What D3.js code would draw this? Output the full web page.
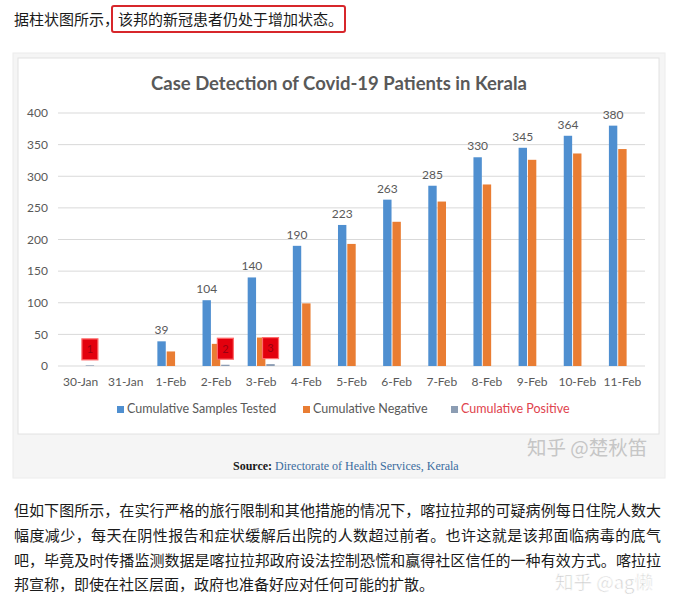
<!DOCTYPE html>
<html><head><meta charset="utf-8">
<script src="https://cdn.jsdelivr.net/npm/d3@7"></script>
<style>body{margin:0;background:#fff;}svg{display:block;}</style>
</head><body>
<svg id="c" width="676" height="605"></svg>
<script>
const categories = ["30-Jan","31-Jan","1-Feb","2-Feb","3-Feb","4-Feb","5-Feb","6-Feb","7-Feb","8-Feb","9-Feb","10-Feb","11-Feb"];
const tested   = [null,null,39,104,140,190,223,263,285,330,345,364,380];
const negative = [null,null,23,35,45,99,193,228,260,287,326,336,343];
const positive = [1,null,null,2,3,null,null,null,null,null,null,null,null];
const yTicks = [0,50,100,150,200,250,300,350,400];
const seriesNames = ["Cumulative Samples Tested","Cumulative Negative","Cumulative Positive"];
const seriesKeys = ["tested","negative","positive"];
const colors = {tested:"#4f8fd0", negative:"#e97d33", positive:"#8c9db3"};
const title = "Case Detection of Covid-19 Patients in Kerala";
const intro1 = "据柱状图所示，";
const intro2 = "该邦的新冠患者仍处于增加状态。";
const para = [
 "但如下图所示，在实行严格的旅行限制和其他措施的情况下，喀拉拉邦的可疑病例每日住院人数大",
 "幅度减少，每天在阴性报告和症状缓解后出院的人数超过前者。也许这就是该邦面临病毒的底气",
 "吧，毕竟及时传播监测数据是喀拉拉邦政府设法控制恐慌和赢得社区信任的一种有效方式。喀拉拉",
 "邦宣称，即使在社区层面，政府也准备好应对任何可能的扩散。"
];

const svg = d3.select("#c");
const cjk = "'Noto Sans CJK SC','Noto Sans',sans-serif";
const lat = "Lato,'Open Sans',sans-serif";

// intro line
svg.append("text").attr("x",14).attr("y",25).attr("font-family",cjk).attr("font-size",15).attr("fill","#1a1a1a").text(intro1);
svg.append("rect").attr("x",112).attr("y",6).attr("width",233).attr("height",26).attr("rx",2)
  .attr("fill","none").attr("stroke","#d7262b").attr("stroke-width",2);
svg.append("text").attr("x",118).attr("y",25).attr("font-family",cjk).attr("font-size",15).attr("fill","#1a1a1a").text(intro2);

// panel
svg.append("rect").attr("x",13).attr("y",53).attr("width",652).attr("height",425).attr("fill","#f5f5f5").attr("stroke","#ececec");
svg.append("rect").attr("x",18).attr("y",58).attr("width",641).attr("height",376).attr("fill","#ffffff").attr("stroke","#e2e2e2");

// title
svg.append("text").attr("x",339).attr("y",90).attr("text-anchor","middle").attr("font-family",lat)
  .attr("font-weight","bold").attr("font-size",18.5).attr("fill","#595959").text(title);

const x = d3.scaleBand().domain(categories).range([58,645]).paddingInner(0.36).paddingOuter(0.18);
const xs = d3.scaleBand().domain(seriesKeys).range([0,x.bandwidth()]).padding(0.1);
const y = d3.scaleLinear().domain([0,400]).range([366,113]);

// grid
svg.append("g").selectAll("line").data(yTicks).join("line")
  .attr("x1",58).attr("x2",645).attr("y1",d=>y(d)).attr("y2",d=>y(d))
  .attr("stroke","#d9d9d9").attr("stroke-width",1);

// y axis
const ya = svg.append("g").attr("transform","translate(50,0)")
  .call(d3.axisLeft(y).tickValues(yTicks).tickSize(0).tickPadding(2));
ya.select(".domain").remove();
ya.selectAll("text").attr("font-family",lat).attr("font-size",12).attr("fill","#595959");

// x axis
const xa = svg.append("g").attr("transform","translate(0,366)")
  .call(d3.axisBottom(x).tickSize(0).tickPadding(11));
xa.select(".domain").remove();
xa.selectAll("text").attr("font-family",lat).attr("font-size",12).attr("fill","#595959");

const rows = categories.map((c,i)=>({c, tested:tested[i], negative:negative[i], positive:positive[i]}));

seriesKeys.forEach(k=>{
  svg.append("g").selectAll("rect").data(rows.filter(r=>r[k]!=null)).join("rect")
    .attr("x",d=>x(d.c)+xs(k)).attr("width",xs.bandwidth())
    .attr("y",d=>y(d[k])).attr("height",d=>y(0)-y(d[k]))
    .attr("fill",colors[k]);
});

// data labels on tested
svg.append("g").selectAll("text").data(rows.filter(r=>r.tested!=null)).join("text")
  .attr("x",d=>x(d.c)+xs("tested")+xs.bandwidth()/2).attr("y",d=>y(d.tested)-7)
  .attr("text-anchor","middle").attr("font-family",lat).attr("font-size",12).attr("fill","#595959")
  .text(d=>d.tested);

// red highlight boxes on positive labels
const pg = svg.append("g").selectAll("g").data(rows.filter(r=>r.positive!=null)).join("g")
  .attr("transform",d=>`translate(${x(d.c)+xs("positive")+xs.bandwidth()/2},${y(d.positive)-16})`);
pg.append("rect").attr("x",-8).attr("y",-10.5).attr("width",16).attr("height",21)
  .attr("fill","#e3000d").attr("stroke","#ff6b6b").attr("stroke-width",1.2);
pg.append("text").attr("text-anchor","middle").attr("dy","0.35em").attr("font-family",lat)
  .attr("font-size",11).attr("fill","#9a0010").text(d=>d.positive);

// legend
const legX = [117,303,451];
const lg = svg.append("g").selectAll("g").data(seriesKeys).join("g")
  .attr("transform",(d,i)=>`translate(${legX[i]},413)`);
lg.append("rect").attr("x",0).attr("y",-7).attr("width",7).attr("height",7).attr("fill",d=>colors[d]);
lg.append("text").attr("x",10).attr("y",0).attr("font-family",lat).attr("font-size",12.5)
  .attr("fill",(d,i)=>i===2?"#e0434d":"#595959").text((d,i)=>seriesNames[i]);

// source
const st = svg.append("text").attr("x",233).attr("y",470).attr("font-family","'Liberation Serif',serif").attr("font-size",12);
st.append("tspan").attr("font-weight","bold").attr("fill","#1a1a1a").text("Source: ");
st.append("tspan").attr("fill","#3b6c9e").text("Directorate of Health Services, Kerala");

// watermark in panel
svg.append("text").attr("x",527).attr("y",455).attr("font-family",cjk).attr("font-size",19.5)
  .attr("fill","#c6c6c6").text("知乎 @楚秋笛");

// paragraph
const lineY = [516,541,566,590];
para.forEach((t,i)=>{
  const tx = svg.append("text").attr("x",14).attr("y",lineY[i]).attr("font-family",cjk)
    .attr("font-size",15).attr("fill","#1a1a1a").text(t);
  if(i<3) tx.attr("textLength",647).attr("lengthAdjust","spacing");
});
svg.append("text").attr("x",555).attr("y",589).attr("font-family",cjk).attr("font-size",18.5)
  .attr("fill","#c8c8c8").attr("stroke","#ffffff").attr("stroke-width",0.6).attr("opacity",0.9).text("知乎 @ag懒");
</script>
</body></html>
